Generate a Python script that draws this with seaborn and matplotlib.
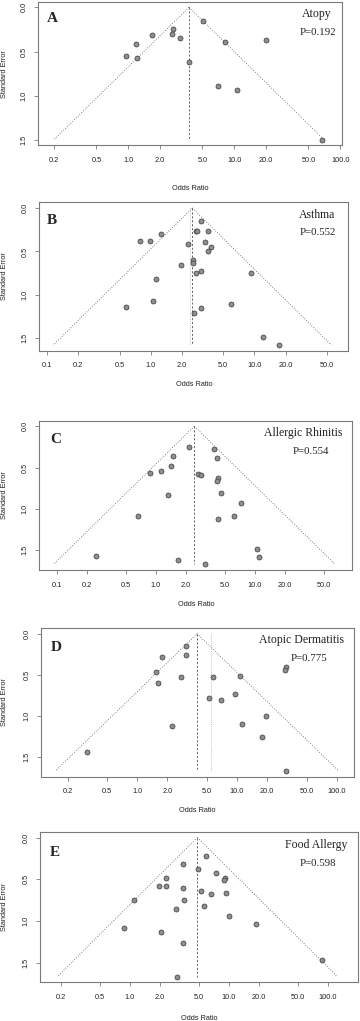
import numpy as np
import pandas as pd
import matplotlib
matplotlib.use("Agg")
import matplotlib.pyplot as plt
import seaborn as sns

# Funnel plots, five outcomes

panels = ["A", "B", "C", "D", "E"]
outcomes = ["Atopy", "Asthma", "Allergic Rhinitis", "Atopic Dermatitis", "Food Allergy"]
p_values = ["P=0.192", "P=0.552", "P=0.554", "P=0.775", "P=0.598"]

# pooled OR (dashed line) and second estimate (light dotted line)
pooled_or = [3.74, 2.52, 2.44, 3.97, 4.79]
second_or = [None, 2.40, None, 5.44, None]

or_a = [5.07, 2.62, 2.57, 1.68, 3.07, 1.19, 0.95, 1.20, 3.74, 8.17, 19.8, 7.0, 10.7, 66.8]
se_a = [0.15, 0.25, 0.30, 0.31, 0.35, 0.41, 0.55, 0.57, 0.62, 0.395, 0.37, 0.885, 0.93, 1.50]

or_b = [3.06, 2.72, 2.78, 3.60, 1.25, 0.78, 0.99, 2.29, 3.32, 3.82, 3.57, 2.58, 2.54,
        1.98, 3.06, 2.73, 9.29, 1.13, 1.05, 6.0, 0.58, 3.08, 2.62, 12.1, 17.2]
se_b = [0.15, 0.26, 0.27, 0.26, 0.30, 0.385, 0.385, 0.415, 0.39, 0.45, 0.50, 0.596, 0.635,
        0.654, 0.73, 0.746, 0.75, 0.815, 1.065, 1.104, 1.142, 1.154, 1.204, 1.48, 1.577]

or_c = [2.15, 1.48, 1.41, 1.12, 0.87, 1.33, 0.66, 3.85, 4.16, 2.66, 2.83, 4.26, 4.10,
        4.50, 7.17, 6.10, 4.23, 0.246, 1.68, 3.10, 10.6, 11.1]
se_c = [0.254, 0.359, 0.476, 0.537, 0.565, 0.834, 1.085, 0.274, 0.387, 0.58, 0.585, 0.629, 0.661,
        0.803, 0.931, 1.085, 1.125, 1.565, 1.613, 1.673, 1.488, 1.585]

or_d = [3.05, 3.05, 1.75, 1.54, 1.62, 2.74, 5.79, 10.7, 31.0, 30.3, 9.62, 5.28, 6.96,
        19.5, 11.3, 2.23, 17.8, 0.315, 31.0]
se_d = [0.151, 0.261, 0.282, 0.465, 0.596, 0.527, 0.531, 0.51, 0.408, 0.445, 0.727, 0.78, 0.804,
        1.0, 1.098, 1.118, 1.261, 1.441, 1.673]

or_e = [5.9, 3.4, 4.9, 7.39, 2.29, 9.18, 9.0, 1.96, 2.33, 3.4, 5.21, 6.64, 9.4, 1.1,
        3.48, 5.55, 2.92, 10.0, 18.6, 0.87, 2.06, 3.43, 86.3, 2.98]
se_e = [0.226, 0.321, 0.381, 0.421, 0.488, 0.488, 0.504, 0.575, 0.575, 0.60, 0.635, 0.671, 0.663, 0.742,
        0.742, 0.813, 0.853, 0.933, 1.032, 1.075, 1.131, 1.262, 1.468, 1.663]

odds = [or_a, or_b, or_c, or_d, or_e]
errors = [se_a, se_b, se_c, se_d, se_e]

tick_values = [0.1, 0.2, 0.5, 1.0, 2.0, 5.0, 10.0, 20.0, 50.0, 100.0]

# layout, in pixels of the 360 x 1021 figure: left, top, right, bottom of each box
W, H = 360, 1021
boxes = [(38.3, 2.0, 341.7, 145.3),
         (39.3, 202.5, 348.3, 350.6),
         (39.3, 420.7, 352.3, 570.0),
         (40.7, 628.3, 354.0, 776.7),
         (40.0, 832.0, 358.3, 982.3)]
xlims = [(0.1416, 103.0), (0.0841, 80.7), (0.0662, 96.2), (0.1074, 148.9), (0.1233, 202.3)]
xlabel_y = [188.3, 385.0, 604.0, 810.7, 1018.0]
letter_pos = [(52.7, 18.3), (51.7, 220.0), (55.7, 439.0), (56.7, 647.3), (55.0, 852.7)]
name_pos = [(317.0, 14.0), (316.7, 215.0), (303.3, 433.3), (301.7, 640.0), (316.0, 845.0)]
pval_pos = [(318.0, 32.3), (318.3, 232.7), (311.0, 451.7), (309.3, 658.3), (318.3, 863.3)]

sns.set_style("white")
plt.rcParams["font.family"] = ["Liberation Sans", "DejaVu Sans"]

fig = plt.figure(figsize=(W / 100, H / 100), dpi=100)
grey = "#7a7a7a"

for i in range(5):
    l, t, r, b = boxes[i]
    ax = fig.add_axes([l / W, 1 - b / H, (r - l) / W, (b - t) / H])
    df = pd.DataFrame({"OR": odds[i], "SE": errors[i]})
    se_max = df["SE"].max()

    # funnel: pooled estimate +/- 1.96 SE on log scale
    se_line = np.array([0.0, se_max])
    centre = np.log(pooled_or[i])
    ax.plot(np.exp(centre - 1.96 * se_line), se_line, color="#555555", lw=0.6, ls=(0, (1, 2)))
    ax.plot(np.exp(centre + 1.96 * se_line), se_line, color="#555555", lw=0.6, ls=(0, (1, 2)))
    ax.plot([pooled_or[i], pooled_or[i]], se_line, color="#4a4a4a", lw=0.6, ls=(0, (2.5, 2.2)))
    if second_or[i] is not None:
        ax.plot([second_or[i], second_or[i]], se_line, color="#b0b0b0", lw=0.6, ls=(0, (1, 1.5)))

    sns.scatterplot(data=df, x="OR", y="SE", ax=ax, s=13, color="#8e8e8e",
                    edgecolor="#3a3a3a", linewidth=0.5, zorder=3)

    ax.set_xscale("log")
    ax.set_xlim(*xlims[i])
    ax.set_ylim(se_max * 1.04, -se_max * 0.04)
    ticks = [v for v in tick_values if xlims[i][0] <= v <= xlims[i][1]]
    ax.set_xticks(ticks)
    ax.set_xticklabels([f"{v:.1f}" for v in ticks])
    ax.xaxis.set_minor_locator(matplotlib.ticker.NullLocator())
    yt = [v for v in [0.0, 0.5, 1.0, 1.5] if v <= se_max * 1.04]
    ax.set_yticks(yt)
    ax.set_yticklabels([f"{v:.1f}" for v in yt], rotation=90, va="center")
    ax.tick_params(axis="both", direction="out", length=3.2, width=0.6, color=grey,
                   labelsize=5.3, labelcolor="#222222", bottom=True, left=True)
    ax.tick_params(axis="x", pad=5.2)
    ax.tick_params(axis="y", pad=4.3)
    ax.set_xlabel("")
    ax.set_ylabel("")
    for sp in ax.spines.values():
        sp.set_visible(True)
        sp.set_color(grey)
        sp.set_linewidth(0.8)

    fig.text((l + r) / 2 / W, 1 - xlabel_y[i] / H, "Odds Ratio", ha="center", va="center",
             fontsize=5.3, color="#222222")
    fig.text(5 / W, 1 - (t + b) / 2 / H, "Standard Error", rotation=90, ha="center",
             va="center", fontsize=5.3, color="#222222")
    fig.text(letter_pos[i][0] / W, 1 - letter_pos[i][1] / H, panels[i], ha="center",
             va="center", fontsize=11, fontweight="bold", family=["Liberation Serif"])
    fig.text(name_pos[i][0] / W, 1 - name_pos[i][1] / H, outcomes[i], ha="center",
             va="center", fontsize=8.5, family=["Liberation Serif"], color="#222222")
    fig.text(pval_pos[i][0] / W, 1 - pval_pos[i][1] / H, p_values[i], ha="center",
             va="center", fontsize=7.8, family=["Liberation Serif"], color="#222222")

fig.savefig("out.png", dpi=100)
